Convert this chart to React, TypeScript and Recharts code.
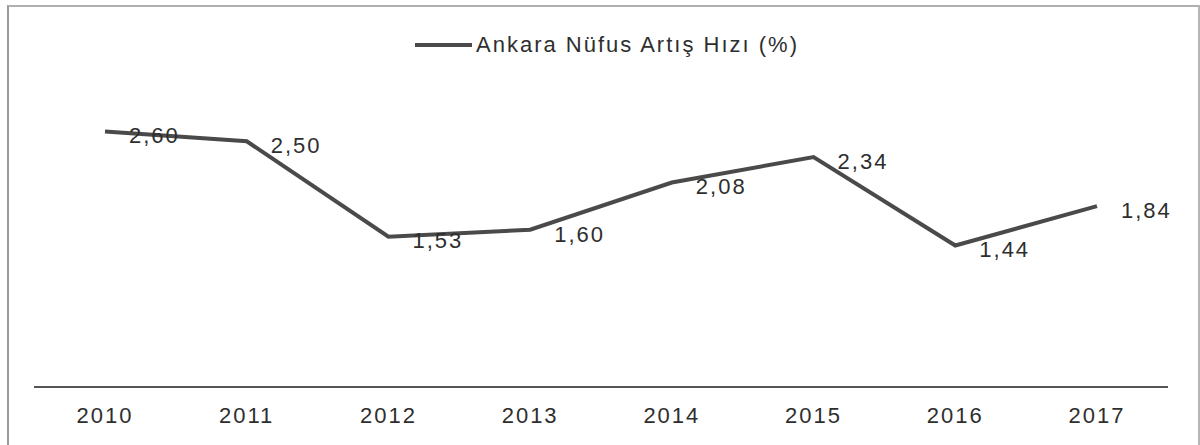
import { LineChart, Line, XAxis, YAxis } from 'recharts'

const years = ['2010', '2011', '2012', '2013', '2014', '2015', '2016', '2017']
const growthRate = [2.6, 2.5, 1.53, 1.6, 2.08, 2.34, 1.44, 1.84]
const seriesName = 'Ankara Nüfus Artış Hızı (%)'

const data = years.map((year, i) => ({ year, rate: growthRate[i] }))

const FONT = '"Liberation Sans", Arial, sans-serif'
const TEXT = '#2e2e2e'
const LINE = '#4a4a4a'

const fmt = (v: any) => Number(v).toFixed(2).replace('.', ',')

export default function App() {
  return (
    <div style={{ position: 'absolute', left: 0, top: 0, width: 1200, height: 445, background: '#fff', overflow: 'hidden' }}>
      {/* scanned frame */}
      <div
        style={{
          position: 'absolute',
          left: 7,
          top: 5,
          width: 1189,
          height: 460,
          borderLeft: '2px solid #9a9a9a',
          borderTop: '2px solid #b0b0b0',
          borderRight: '2px solid #b5b5b5',
        }}
      />
      <div style={{ position: 'absolute', left: 0, top: 0 }}>
        <LineChart width={1200} height={445} data={data} margin={{ top: 43, right: 32, bottom: 0, left: 34 }}>
          <XAxis
            dataKey="year"
            height={58}
            padding={{ left: 71, right: 71 }}
            axisLine={{ stroke: '#555', strokeWidth: 2 }}
            tickLine={false}
            tickMargin={14}
            tick={{ fontSize: 22, fill: TEXT, fontFamily: FONT, letterSpacing: 2 }}
          />
          <YAxis hide domain={[0, 3.5]} />
          <Line
            type="linear"
            dataKey="rate"
            name={seriesName}
            stroke={LINE}
            strokeWidth={4}
            dot={false}
            isAnimationActive={false}
            label={{
              position: 'right',
              offset: 24,
              dy: 4,
              fontSize: 22,
              fill: TEXT,
              fontFamily: FONT,
              letterSpacing: 2,
              formatter: fmt,
            }}
          />
        </LineChart>
      </div>
      {/* legend */}
      <div
        style={{
          position: 'absolute',
          left: 415,
          top: 31,
          display: 'flex',
          alignItems: 'center',
          fontFamily: FONT,
          fontSize: 22,
          letterSpacing: 2,
          color: TEXT,
          lineHeight: '28px',
          whiteSpace: 'nowrap',
        }}
      >
        <span style={{ display: 'inline-block', width: 57, height: 4, background: LINE, marginRight: 4 }} />
        <span>{seriesName}</span>
      </div>
    </div>
  )
}
